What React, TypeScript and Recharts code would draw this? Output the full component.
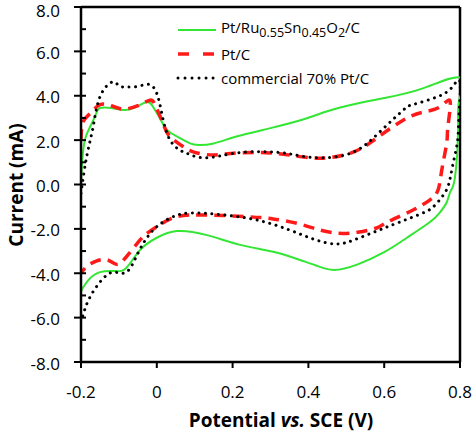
import { LineChart, Line, XAxis, YAxis, ReferenceLine, Label } from "recharts";

// potential (V) vs current (mA), each loop, anodic sweep first
const ptRuSnO2: [number, number][] = [
  [-0.2, 0.0], [-0.197, 1.0], [-0.19, 2.0], [-0.176, 2.6], [-0.16, 3.2], [-0.15, 3.45],
  [-0.12, 3.45], [-0.089, 3.36], [-0.06, 3.45], [-0.026, 3.72], [-0.01, 3.5], [0.008, 3.0],
  [0.027, 2.46], [0.06, 2.1], [0.088, 1.85], [0.11, 1.78], [0.15, 1.85], [0.21, 2.16],
  [0.3, 2.54], [0.39, 2.95], [0.45, 3.3], [0.52, 3.62], [0.6, 3.9], [0.7, 4.32], [0.8, 4.82],
  [0.798, 3.8], [0.795, 2.6], [0.787, 0.35], [0.775, -0.3], [0.765, -0.8], [0.745, -1.3],
  [0.72, -1.7], [0.66, -2.4], [0.6, -3.05], [0.53, -3.6], [0.467, -3.85], [0.42, -3.65],
  [0.378, -3.4], [0.307, -3.03], [0.22, -2.72], [0.13, -2.27], [0.053, -2.1], [0.0, -2.4],
  [-0.044, -2.95], [-0.08, -3.75], [-0.11, -3.9], [-0.15, -3.95], [-0.18, -4.3], [-0.2, -4.8],
];

const ptC: [number, number][] = [
  [-0.2, 2.0], [-0.195, 2.8], [-0.176, 3.2], [-0.15, 3.6], [-0.12, 3.55], [-0.09, 3.4],
  [-0.05, 3.55], [-0.018, 3.8], [-0.005, 3.6], [0.008, 3.1], [0.02, 2.6], [0.035, 2.15],
  [0.07, 1.7], [0.1, 1.45], [0.15, 1.33], [0.21, 1.42], [0.3, 1.42], [0.36, 1.3], [0.41, 1.2],
  [0.45, 1.2], [0.52, 1.47], [0.585, 2.15], [0.65, 2.9], [0.7, 3.25], [0.747, 3.5], [0.774, 3.75],
  [0.768, 2.6], [0.765, 1.88], [0.752, 0.66], [0.742, -0.25], [0.72, -0.7], [0.676, -1.15],
  [0.61, -1.68], [0.58, -1.96], [0.53, -2.15], [0.48, -2.2], [0.43, -2.05], [0.37, -1.75],
  [0.307, -1.55], [0.238, -1.45], [0.114, -1.37], [0.043, -1.5], [0.0, -1.9], [-0.026, -2.2],
  [-0.044, -2.5], [-0.08, -3.25], [-0.105, -3.6], [-0.13, -3.4], [-0.16, -3.45], [-0.185, -3.7],
  [-0.2, -4.0],
];

const commercial: [number, number][] = [
  [-0.2, -0.4], [-0.185, 1.26], [-0.168, 2.6], [-0.15, 3.95], [-0.118, 4.62], [-0.1, 4.45],
  [-0.08, 4.4], [-0.05, 4.42], [-0.018, 4.5], [0.003, 3.95], [0.017, 2.9], [0.035, 2.0],
  [0.06, 1.56], [0.083, 1.38], [0.13, 1.2], [0.21, 1.42], [0.3, 1.47], [0.36, 1.35], [0.43, 1.2],
  [0.52, 1.47], [0.59, 2.4], [0.65, 3.35], [0.676, 3.6], [0.74, 3.95], [0.78, 4.4], [0.8, 4.6],
  [0.797, 3.0], [0.793, 1.9], [0.78, 0.8], [0.77, 0.0], [0.755, -0.5], [0.73, -1.0], [0.7, -1.3],
  [0.64, -1.7], [0.58, -2.1], [0.52, -2.5], [0.475, -2.68], [0.42, -2.5], [0.35, -2.05],
  [0.264, -1.6], [0.175, -1.37], [0.096, -1.28], [0.043, -1.45], [0.0, -1.9], [-0.026, -2.4],
  [-0.05, -3.1], [-0.08, -3.95], [-0.115, -3.95], [-0.15, -4.4], [-0.18, -5.2], [-0.195, -5.9],
  [-0.2, -6.1],
];

const xTicks = [-0.2, 0, 0.2, 0.4, 0.6, 0.8];
const yTicks = [-8, -7, -6, -5, -4, -3, -2, -1, 0, 1, 2, 3, 4, 5, 6, 7, 8];

const toRows = (pts: [number, number][]) => pts.map(([x, y]) => ({ x, y }));

const FONT = "'Open Sans', sans-serif";

function YTick({ x, y, payload }: any) {
  const v = payload.value as number;
  const major = Math.abs(Math.round(v)) % 2 === 0;
  return (
    <g>
      <line x1={major ? x - 7 : x} x2={x + 5} y1={y} y2={y} stroke="#000" strokeWidth={2} />
      {major && (
        <text x={x - 21} y={Math.max(y + 1, 10)} textAnchor="end" dominantBaseline="central" fontSize={17} fill="#000" fontFamily={FONT}>
          {v.toFixed(1)}
        </text>
      )}
    </g>
  );
}

function XTick({ x, y, payload }: any) {
  const v = payload.value as number;
  return (
    <g>
      <line x1={x} x2={x} y1={y} y2={y + 6} stroke="#000" strokeWidth={2} />
      <text x={x} y={y + 29} textAnchor="middle" dominantBaseline="central" fontSize={17} fill="#000" fontFamily={FONT}>
        {v === 0 ? "0" : v.toFixed(1)}
      </text>
    </g>
  );
}

const legendItems = [
  { key: "a", stroke: "#33e633", width: 2, dash: undefined, cap: "butt", label: <>Pt/Ru<sub>0.55</sub>Sn<sub>0.45</sub>O<sub>2</sub>/C</> },
  { key: "b", stroke: "#ff1a1a", width: 3.5, dash: "11 14", cap: "butt", label: <>Pt/C</> },
  { key: "c", stroke: "#000", width: 3, dash: "0.01 7", cap: "round", label: <>commercial 70% Pt/C</> },
];

function LegendBox() {
  return (
    <div style={{ position: "absolute", left: 176, top: 18, fontFamily: FONT, fontSize: 15, color: "#000", lineHeight: "24px" }}>
      {legendItems.map((it) => (
        <div key={it.key} style={{ display: "flex", alignItems: "center", height: 24 }}>
          <svg width={42} height={10} style={{ marginRight: 3 }}>
            <line x1={2} x2={40} y1={5} y2={5} stroke={it.stroke} strokeWidth={it.width}
              strokeDasharray={it.dash} strokeLinecap={it.cap as any} />
          </svg>
          <span>{it.label}</span>
        </div>
      ))}
    </div>
  );
}

export default function App() {
  return (
    <div style={{ position: "absolute", left: 0, top: 0, width: 474, height: 439, background: "#fff", fontFamily: FONT }}>
      <LineChart width={474} height={439} margin={{ top: 7, right: 14, bottom: 0, left: 0 }}>
        <XAxis
          type="number"
          dataKey="x"
          domain={[-0.2, 0.8]}
          ticks={xTicks}
          allowDataOverflow
          height={77}
          tickSize={0}
          tickMargin={0}
          tickLine={false}
          tick={<XTick />}
          axisLine={{ stroke: "#000", strokeWidth: 2.5 }}
        >
          <Label
            content={() => (
              <text x={281} y={427} textAnchor="middle" fontSize={19} fontWeight="bold" fill="#000" fontFamily={FONT}>
                <tspan>Potential </tspan>
                <tspan fontStyle="italic">vs.</tspan>
                <tspan> SCE (V)</tspan>
              </text>
            )}
          />
        </XAxis>
        <YAxis
          type="number"
          domain={[-8, 8]}
          ticks={yTicks}
          allowDataOverflow
          width={81}
          tickSize={0}
          tickMargin={0}
          tickLine={false}
          tick={<YTick />}
          axisLine={{ stroke: "#000", strokeWidth: 2.5 }}
          interval={0}
        >
          <Label
            content={() => (
              <text x={23} y={185} transform="rotate(-90, 23, 185)" textAnchor="middle" fontSize={19}
                fontWeight="bold" fill="#000" fontFamily={FONT}>
                Current (mA)
              </text>
            )}
          />
        </YAxis>
        <ReferenceLine y={8} stroke="#000" strokeWidth={2.5} />
        <ReferenceLine x={0.8} stroke="#000" strokeWidth={2.5} />
        <Line data={toRows(ptRuSnO2)} dataKey="y" type="natural" stroke="#33e633" strokeWidth={2}
          dot={false} activeDot={false} isAnimationActive={false} />
        <Line data={toRows(ptC)} dataKey="y" type="natural" stroke="#ff1a1a" strokeWidth={3.5}
          strokeDasharray="11 7" dot={false} activeDot={false} isAnimationActive={false} />
        <Line data={toRows(commercial)} dataKey="y" type="natural" stroke="#000" strokeWidth={3}
          strokeDasharray="0.01 6.5" strokeLinecap="round" dot={false} activeDot={false} isAnimationActive={false} />
      </LineChart>
      <LegendBox />
    </div>
  );
}
